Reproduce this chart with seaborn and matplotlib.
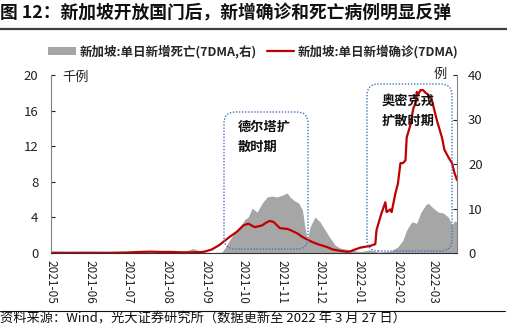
import matplotlib
matplotlib.use("Agg")
import matplotlib.pyplot as plt
from matplotlib.patches import FancyBboxPatch
from matplotlib.lines import Line2D
from matplotlib.patches import Patch
import seaborn as sns
import pandas as pd

sns.set_theme(style="white")
plt.rcParams['font.family'] = ['Noto Sans CJK SC', 'DejaVu Sans']
plt.rcParams['axes.unicode_minus'] = False

# ---- data ----
case_dates = ["2021-05-01", "2021-05-16", "2021-05-31", "2021-06-15", "2021-06-30", "2021-07-11",
              "2021-07-19", "2021-07-27", "2021-08-04", "2021-08-12", "2021-08-20", "2021-08-28",
              "2021-08-31", "2021-09-06", "2021-09-12", "2021-09-20", "2021-09-26", "2021-10-01",
              "2021-10-05", "2021-10-10", "2021-10-16", "2021-10-19", "2021-10-22", "2021-10-25",
              "2021-10-30", "2021-11-05", "2021-11-07", "2021-11-13", "2021-11-17", "2021-11-23",
              "2021-11-29", "2021-12-07", "2021-12-11", "2021-12-17", "2021-12-22", "2021-12-25",
              "2021-12-27", "2022-01-02", "2022-01-10", "2022-01-14", "2022-01-15", "2022-01-19",
              "2022-01-22", "2022-01-23", "2022-01-26", "2022-01-27", "2022-01-30", "2022-02-01",
              "2022-02-03", "2022-02-05", "2022-02-07", "2022-02-08", "2022-02-11", "2022-02-13",
              "2022-02-15", "2022-02-16", "2022-02-17", "2022-02-19", "2022-02-21", "2022-02-23",
              "2022-02-25", "2022-02-28", "2022-03-04", "2022-03-08", "2022-03-10", "2022-03-13",
              "2022-03-16", "2022-03-18", "2022-03-20"]
cases_k = [0.03, 0.02, 0.03, 0.02, 0.05, 0.12,
           0.15, 0.12, 0.12, 0.08, 0.07, 0.10,
           0.15, 0.40, 0.90, 1.80, 2.40, 3.10,
           3.30, 2.90, 3.10, 3.40, 3.60, 3.50,
           2.80, 2.70, 2.60, 2.20, 1.80, 1.35,
           1.00, 0.65, 0.40, 0.25, 0.15, 0.17,
           0.30, 0.60, 0.80, 1.00, 2.60, 4.50,
           5.70, 4.60, 4.90, 4.60, 6.70, 7.80,
           10.1, 10.1, 10.4, 13.0, 14.4, 16.1,
           16.9, 18.1, 17.8, 18.3, 18.3, 18.0,
           17.8, 17.2, 14.9, 13.0, 11.6, 10.8,
           10.1, 9.0, 8.2]

death_dates = ["2021-05-01", "2021-06-10", "2021-07-05", "2021-07-19", "2021-07-27", "2021-08-02",
               "2021-08-12", "2021-08-18", "2021-08-22", "2021-08-26", "2021-08-31", "2021-09-06",
               "2021-09-14", "2021-09-17", "2021-09-20", "2021-09-24", "2021-09-28", "2021-10-02",
               "2021-10-05", "2021-10-08", "2021-10-12", "2021-10-16", "2021-10-20", "2021-10-24",
               "2021-10-28", "2021-11-01", "2021-11-05", "2021-11-07", "2021-11-10", "2021-11-14",
               "2021-11-17", "2021-11-19", "2021-11-21", "2021-11-23", "2021-11-27", "2021-12-01",
               "2021-12-05", "2021-12-09", "2021-12-13", "2021-12-17", "2021-12-25", "2022-01-02",
               "2022-01-10", "2022-01-16", "2022-01-26", "2022-02-01", "2022-02-05", "2022-02-08",
               "2022-02-12", "2022-02-16", "2022-02-19", "2022-02-23", "2022-02-25", "2022-03-01",
               "2022-03-05", "2022-03-09", "2022-03-13", "2022-03-16", "2022-03-18", "2022-03-20"]
deaths = [0.0, 0.0, 0.1, 0.2, 0.4, 0.3,
          0.2, 0.6, 1.0, 0.6, 0.2, 0.1,
          0.2, 1.4, 2.9, 4.5, 5.6, 7.5,
          8.1, 10.1, 9.2, 11.2, 12.6, 12.8,
          12.6, 13.0, 13.5, 12.6, 11.9, 11.2,
          9.7, 5.8, 2.9, 5.8, 8.1, 7.0,
          5.2, 3.4, 1.8, 1.1, 0.7, 0.3,
          0.7, 0.2, 0.4, 1.4, 2.9, 5.2,
          7.0, 6.7, 9.0, 10.8, 11.2, 10.1,
          9.2, 9.0, 8.1, 6.3, 7.2, 7.0]

month_ticks = ["2021-05", "2021-06", "2021-07", "2021-08", "2021-09", "2021-10",
               "2021-11", "2021-12", "2022-01", "2022-02", "2022-03"]
left_ticks = [0, 4, 8, 12, 16, 20]
right_ticks = [0, 10, 20, 30, 40]

title = "图 12：新加坡开放国门后，新增确诊和死亡病例明显反弹"
legend_death = "新加坡:单日新增死亡(7DMA,右)"
legend_case = "新加坡:单日新增确诊(7DMA)"
source = "资料来源：Wind，光大证券研究所（数据更新至 2022 年 3 月 27 日）"

df_c = pd.DataFrame({"date": pd.to_datetime(case_dates), "cases": cases_k})
df_d = pd.DataFrame({"date": pd.to_datetime(death_dates), "deaths": deaths})

RED = "#C00000"
GRAY = "#A6A6A6"
BLUE = "#4472C4"

fig = plt.figure(figsize=(5.07, 3.27), dpi=100)
ax = fig.add_axes([51/507, 1-253/327, 406/507, 178/327])
ax2 = ax.twinx()

ax2.fill_between(df_d["date"], 0, df_d["deaths"], color=GRAY, linewidth=0)
sns.lineplot(data=df_c, x="date", y="cases", ax=ax, color=RED, linewidth=1.6)

ax.set_zorder(ax2.get_zorder() + 1)
ax.patch.set_visible(False)

xmin, xmax = pd.Timestamp("2021-05-01"), pd.Timestamp("2022-03-20")
ax.set_xlim(xmin, xmax)
ax.set_ylim(0, 20)
ax2.set_ylim(0, 40)
ax.set_yticks(left_ticks)
ax2.set_yticks(right_ticks)
ax.set_xticks(pd.to_datetime([m + "-01" for m in month_ticks]))
ax.set_xticklabels(month_ticks, rotation=-90, fontsize=8.5, color="#222222")
ax.set_xlabel("")
ax.set_ylabel("")
ax2.set_ylabel("")
ax.tick_params(axis="y", direction="in", length=3, pad=9, labelsize=9.5, colors="#222222", width=0.8)
ax.tick_params(axis="x", direction="in", length=3, pad=5, width=0.8, color="#333333")
ax2.tick_params(axis="y", direction="in", length=3, pad=8, labelsize=9.5, colors="#222222", width=0.8)
for a in (ax, ax2):
    a.spines["top"].set_visible(False)
    a.grid(False)
ax.spines["left"].set_color("#808080")
ax2.spines["left"].set_visible(False)
ax2.spines["right"].set_color("#808080")
ax2.spines["right"].set_linewidth(0.8)
ax.spines["left"].set_linewidth(0.8)
ax.spines["bottom"].set_color("#333333")
ax.spines["bottom"].set_linewidth(0.8)
ax.spines["right"].set_visible(False)
ax2.spines["bottom"].set_visible(False)
for lab in ax.get_yticklabels() + ax2.get_yticklabels():
    lab.set_color("#222222")

# unit labels
fig.text(62/507, 1-77/327, "千例", fontsize=9.5, ha="left", va="center", color="#222222")
fig.text(440/507, 1-74/327, "例", fontsize=9.5, ha="center", va="center", color="#222222")

# dotted rounded boxes
asp = 507/327
for (bx, by, bw, bh) in [(224/507, 1-249/327, 84/507, 137/327),
                         (367/507, 1-251/327, 85/507, 167/327)]:
    p = FancyBboxPatch((bx, by), bw, bh, boxstyle="round,pad=0,rounding_size=0.022",
                       mutation_aspect=asp, transform=fig.transFigure, fill=False,
                       edgecolor=BLUE, linestyle=(0, (1, 1.2)), linewidth=1.0, zorder=10)
    fig.add_artist(p)

fig.text(238/507, 1-120/327, "德尔塔扩\n散时期", fontsize=9.5, fontweight="bold",
         ha="left", va="top", linespacing=1.5, color="#111111")
fig.text(382/507, 1-94/327, "奥密克戎\n扩散时期", fontsize=9.5, fontweight="bold",
         ha="left", va="top", linespacing=1.5, color="#111111")

# title & rules
fig.text(0.0, 1-13/327, title, fontsize=12.8, fontweight="bold", ha="left", va="center", color="#111111")
fig.add_artist(Line2D([0, 1], [1-28.5/327, 1-28.5/327], transform=fig.transFigure,
                      color="#404040", linewidth=1.6))
fig.add_artist(Line2D([0, 505/507], [1-311/327, 1-311/327], transform=fig.transFigure,
                      color="#111111", linewidth=0.8))
fig.text(0.0, 1-319/327, source, fontsize=9.5, ha="left", va="center", color="#111111")

# legend
handles = [Patch(facecolor=GRAY, edgecolor="none"), Line2D([], [], color=RED, linewidth=1.6)]
fig.legend(handles, [legend_death, legend_case], loc="center", bbox_to_anchor=(0.5, 1-51.5/327),
           ncol=2, frameon=False, prop={"size": 9, "weight": "bold"}, handlelength=2.2,
           handleheight=0.5, columnspacing=0.8, handletextpad=0.3)

fig.savefig("out.png", dpi=100)
